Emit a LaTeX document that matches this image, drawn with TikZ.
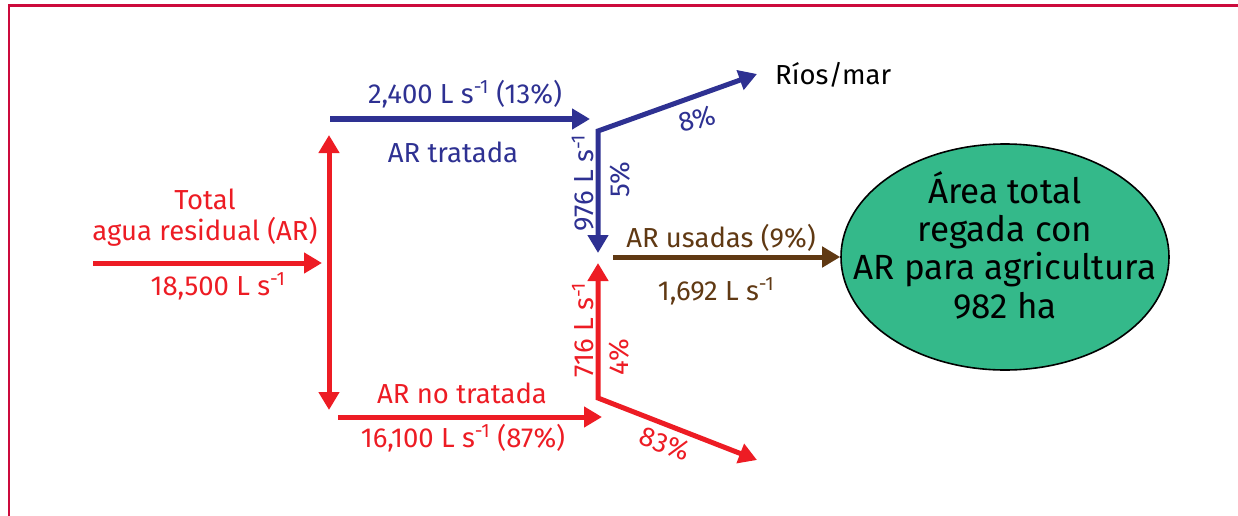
\documentclass[tikz,border=0pt]{standalone}
\usepackage{fontspec}
\setmainfont{Fira Sans}
\usetikzlibrary{arrows.meta,shapes.geometric}
\definecolor{arred}{HTML}{ED1C24}
\definecolor{arblue}{HTML}{2E3192}
\definecolor{arbrown}{HTML}{603913}
\definecolor{argreen}{HTML}{34B98A}
\definecolor{framered}{HTML}{CC0A3C}
\newcommand{\Ls}{L s\textsuperscript{-1}}
\tikzset{
  tip/.tip={Triangle[length=18pt,width=20pt]},
  flow/.style={line width=5pt, line join=miter},
  lbl/.style={inner sep=0pt, font=\fontsize{27.5}{31}\selectfont},
}
\begin{document}
\begin{tikzpicture}[x=1pt, y=-1pt]
    \useasboundingbox (0,0) rectangle (1238,516);
    \draw[framered, line width=2.2pt] (1238,5.5) -- (9,5.5) -- (9,516);

    \coordinate (inStart) at (93,263);
    \coordinate (inEnd) at (322,263);
    \coordinate (splitTop) at (329,135);
    \coordinate (splitBot) at (329,410);
    \coordinate (tratStart) at (330,119);
    \coordinate (tratEnd) at (590,119);
    \coordinate (noStart) at (338,417);
    \coordinate (noEnd) at (602,417);
    \coordinate (blueJoin) at (598,131);
    \coordinate (blueDown) at (598,253);
    \coordinate (riosTip) at (757,74);
    \coordinate (redJoin) at (598,398);
    \coordinate (redUp) at (598,263);
    \coordinate (marTip) at (757,460);
    \coordinate (usoStart) at (613,257);

    \node[ellipse, draw, fill=argreen, line width=1.6pt, minimum width=328pt,
          minimum height=226pt, inner sep=0pt] (area) at (1005,257) {};
    \node[align=center, inner sep=0pt, font=\fontsize{35}{38.3}\selectfont]
          (areaTxt) at (1005,245) {Área total\\regada con\\AR para agricultura\\982 ha};

    \draw[flow, arred, -tip] (inStart) -- (inEnd);
    \draw[flow, arred, tip-tip] (splitTop) -- (splitBot);
    \draw[flow, arblue, -tip] (tratStart) -- (tratEnd);
    \draw[flow, arred, -tip] (noStart) -- (noEnd);
    \draw[flow, arblue, tip-tip] (riosTip) -- (blueJoin) -- (blueDown);
    \draw[flow, arred, tip-tip] (redUp) -- (redJoin) -- (marTip);
    \draw[flow, arbrown, -tip] (usoStart) -- (area.west);

    \node[lbl, arred, anchor=base] (total) at (205,209) {Total};
    \node[lbl, arred, anchor=base] (agua) at (205,240) {agua residual (AR)};
    \node[lbl, arred, anchor=base] (caudal) at (218,295) {18,500 \Ls};
    \node[lbl, arblue, anchor=base] (tratQ) at (465,103) {2,400 \Ls{} (13\%)};
    \node[lbl, arblue, anchor=base] (trat) at (453,162) {AR tratada};
    \node[lbl, arred, anchor=base] (noTrat) at (462,403) {AR no tratada};
    \node[lbl, arred, anchor=base] (noQ) at (463,447) {16,100 \Ls{} (87\%)};
    \node[lbl, arblue, rotate=90] (blueQ) at (583,183) {976 \Ls};
    \node[lbl, arblue, rotate=90] (bluePct) at (620,180) {5\%};
    \node[lbl, arblue, rotate=15] (riosPct) at (697,119) {8\%};
    \node[lbl, anchor=base west] (rios) at (775,85) {Ríos/mar};
    \node[lbl, arred, rotate=90] (redQ) at (583,330) {716 \Ls};
    \node[lbl, arred, rotate=90] (redPct) at (619,357) {4\%};
    \node[lbl, arred, rotate=-20] (marPct) at (665,444) {83\%};
    \node[lbl, arbrown, anchor=base] (uso) at (721,247) {AR usadas (9\%)};
    \node[lbl, arbrown, anchor=base] (usoQ) at (716,300) {1,692 \Ls};
\end{tikzpicture}
\end{document}
